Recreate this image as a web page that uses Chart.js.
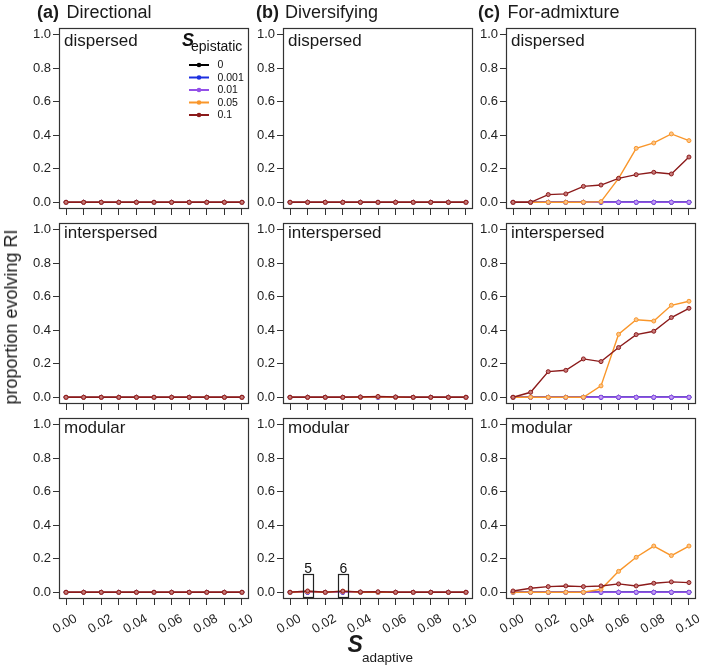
<!DOCTYPE html>
<html><head><meta charset="utf-8">
<script src="https://cdn.jsdelivr.net/npm/chart.js@4.4.1/dist/chart.umd.min.js"></script>
<style>
html,body{margin:0;padding:0;background:#fff;}
body{width:709px;height:672px;position:relative;overflow:hidden;font-family:'Liberation Sans',Arial,sans-serif;color:#1a1a1a;}
.t{position:absolute;white-space:nowrap;}
canvas{position:absolute;}
</style></head><body>
<script>
// ---------- data ----------
const sAdaptive = [0, 0.01, 0.02, 0.03, 0.04, 0.05, 0.06, 0.07, 0.08, 0.09, 0.10];
const xLabelValues = [0, 0.02, 0.04, 0.06, 0.08, 0.10];
const xLabelTexts = ['0.00', '0.02', '0.04', '0.06', '0.08', '0.10'];
const yTicks = [0, 0.2, 0.4, 0.6, 0.8, 1.0];
const seriesLabels = ['0', '0.001', '0.01', '0.05', '0.1'];
const seriesColors = ['#000000', '#1c2fe0', '#9350e8', '#f9962a', '#8b1a1a'];
const seriesFill = ['#606060', '#7f8af0', '#c3a0f3', '#fcc58a', '#c77a7a'];
const selectionTitles = ['Directional', 'Diversifying', 'For-admixture'];
const selectionLetters = ['(a)', '(b)', '(c)'];
const architectures = ['dispersed', 'interspersed', 'modular'];
const noteX = [0.01, 0.03];
const noteText = ['5', '6'];

// rows: sEpistatic 0, 0.001, 0.01, 0.05, 0.1
const dirDispersed = [
  [0,0,0,0,0,0,0,0,0,0,0],
  [0,0,0,0,0,0,0,0,0,0,0],
  [0,0,0,0,0,0,0,0,0,0,0],
  [0,0,0,0,0,0,0,0,0,0,0],
  [0,0,0,0,0,0,0,0,0,0,0]];
const dirInterspersed = [
  [0,0,0,0,0,0,0,0,0,0,0],
  [0,0,0,0,0,0,0,0,0,0,0],
  [0,0,0,0,0,0,0,0,0,0,0],
  [0,0,0,0,0,0,0,0,0,0,0],
  [0,0,0,0,0,0,0,0,0,0,0]];
const dirModular = [
  [0,0,0,0,0,0,0,0,0,0,0],
  [0,0,0,0,0,0,0,0,0,0,0],
  [0,0,0,0,0,0,0,0,0,0,0],
  [0,0,0,0,0,0,0,0,0,0,0],
  [0,0,0,0,0,0,0,0,0,0,0]];
const divDispersed = [
  [0,0,0,0,0,0,0,0,0,0,0],
  [0,0,0,0,0,0,0,0,0,0,0],
  [0,0,0,0,0,0,0,0,0,0,0],
  [0,0,0,0,0,0,0,0,0,0,0],
  [0,0,0,0,0,0,0,0,0,0,0]];
const divInterspersed = [
  [0,0,0,0,0,0,0,0,0,0,0],
  [0,0,0,0,0,0,0,0,0,0,0],
  [0,0,0,0,0,0,0,0,0,0,0],
  [0,0,0,0,0,0.003,0,0,0,0,0],
  [0,0,0,0,0.002,0.005,0.002,0,0,0,0]];
const divModular = [
  [0,0,0,0,0,0,0,0,0,0,0],
  [0,0,0,0,0,0,0,0,0,0,0],
  [0,0,0,0,0,0,0,0,0,0,0],
  [0,0.005,0,0.006,0,0,0,0,0,0,0],
  [0,0.008,0,0.007,0.002,0.003,0,0,0,0,0]];
const admDispersed = [
  [0,0,0,0,0,0,0,0,0,0,0],
  [0,0,0,0,0,0,0,0,0,0,0],
  [0,0,0,0,0,0,0,0,0,0,0],
  [0,0,0,0,0,0.004,0.143,0.322,0.354,0.408,0.368],
  [0,0,0.046,0.05,0.095,0.103,0.143,0.165,0.179,0.169,0.27]];
const admInterspersed = [
  [0,0,0,0,0,0,0,0,0,0,0],
  [0,0,0,0,0,0,0,0,0,0,0],
  [0,0,0,0,0,0,0,0,0,0,0],
  [0,0,0,0,0,0.068,0.376,0.463,0.455,0.549,0.573],
  [0,0.03,0.153,0.161,0.229,0.213,0.297,0.374,0.394,0.476,0.531]];
const admModular = [
  [0,0,0,0,0,0,0,0,0,0,0],
  [0,0,0,0,0,0,0,0,0,0,0],
  [0,0,0,0,0,0,0,0,0,0,0],
  [0,0,0,0,0,0.018,0.125,0.209,0.276,0.219,0.276],
  [0.008,0.024,0.034,0.038,0.034,0.038,0.05,0.038,0.054,0.062,0.058]];

const panelData = [
  [dirDispersed, dirInterspersed, dirModular],
  [divDispersed, divInterspersed, divModular],
  [admDispersed, admInterspersed, admModular]];

// ---------- layout ----------
const FONT = "'Liberation Sans', Arial, sans-serif";
const BOX_LEFT = [59, 283, 506];
const BOX_TOP = [28, 223, 418];
const BOX_W = 190, BOX_H = 181;
const PAD_L = 50, PAD_T = 12, PAD_R = 6, PAD_B = 40;

function text(str, left, baseline, size, weight, style) {
  const s = document.createElement('span');
  s.className = 't';
  s.textContent = str;
  s.style.fontSize = size + 'px';
  s.style.lineHeight = size + 'px';
  s.style.fontWeight = weight || 'normal';
  s.style.fontStyle = style || 'normal';
  s.style.left = left + 'px';
  s.style.top = (baseline - 0.8465 * size) + 'px';
  document.body.appendChild(s);
  return s;
}

const deco = {
  id: 'panelDeco',
  afterDraw(chart, args, opts) {
    const { ctx, chartArea: a } = chart;
    const xs = chart.scales.x, ys = chart.scales.y;
    ctx.save();
    // box
    ctx.strokeStyle = '#333';
    ctx.lineWidth = 1.2;
    ctx.strokeRect(Math.round(a.left) + 0.5, Math.round(a.top) + 0.5, Math.round(a.width) - 1, Math.round(a.height) - 1);
    // architecture label
    ctx.fillStyle = '#1a1a1a';
    ctx.font = '17px ' + FONT;
    ctx.textAlign = 'left';
    ctx.textBaseline = 'alphabetic';
    ctx.fillText(architectures[opts.row], a.left + 5, a.top + (opts.row === 0 ? 17.6 : 14.8));
    // x tick labels on bottom row
    if (opts.row === 2) {
      ctx.font = '13px ' + FONT;
      ctx.fillStyle = '#222';
      ctx.textAlign = 'center';
      ctx.textBaseline = 'middle';
      xLabelValues.forEach((v, i) => {
        const px = xs.getPixelForValue(v);
        ctx.save();
        ctx.translate(px - 1, a.bottom + 25);
        ctx.rotate(-30 * Math.PI / 180);
        ctx.fillText(xLabelTexts[i], 0, 0);
        ctx.restore();
      });
    }
    // legend
    if (opts.row === 0 && opts.col === 0) {
      ctx.fillStyle = '#111';
      ctx.textAlign = 'left';
      ctx.textBaseline = 'alphabetic';
      ctx.font = 'italic bold 18px ' + FONT;
      ctx.fillText('S', a.left + 123, a.top + 17.8);
      ctx.font = '14px ' + FONT;
      ctx.fillText('epistatic', a.left + 132, a.top + 22.6);
      seriesLabels.forEach((lab, i) => {
        const cy = a.top + 37 + i * 12.5;
        ctx.strokeStyle = seriesColors[i];
        ctx.lineWidth = 2;
        ctx.beginPath();
        ctx.moveTo(a.left + 130, cy);
        ctx.lineTo(a.left + 150, cy);
        ctx.stroke();
        ctx.fillStyle = seriesColors[i];
        ctx.beginPath();
        ctx.arc(a.left + 140, cy, 2.3, 0, Math.PI * 2);
        ctx.fill();
        ctx.fillStyle = '#111';
        ctx.font = '10.5px ' + FONT;
        ctx.textBaseline = 'middle';
        ctx.fillText(lab, a.left + 158.5, cy + 0.5);
        ctx.textBaseline = 'alphabetic';
      });
    }
    // count annotations
    if (opts.row === 2 && opts.col === 1) {
      const y0 = ys.getPixelForValue(0);
      ctx.strokeStyle = '#222';
      ctx.lineWidth = 1.2;
      ctx.fillStyle = '#111';
      ctx.font = '14px ' + FONT;
      ctx.textAlign = 'center';
      ctx.textBaseline = 'alphabetic';
      noteX.forEach((v, i) => {
        const px = xs.getPixelForValue(v);
        ctx.strokeRect(Math.round(px - 5) + 0.5, Math.round(y0 - 18) + 0.5, 10, 23);
        ctx.fillText(noteText[i], px + 0.5, y0 - 19.5);
      });
    }
    ctx.restore();
  }
};

function makePanel(col, row) {
  const series = panelData[col][row];
  const W = PAD_L + BOX_W + PAD_R, H = PAD_T + BOX_H + PAD_B;
  const cv = document.createElement('canvas');
  cv.width = W; cv.height = H;
  cv.style.left = (BOX_LEFT[col] - PAD_L) + 'px';
  cv.style.top = (BOX_TOP[row] - PAD_T) + 'px';
  cv.style.width = W + 'px'; cv.style.height = H + 'px';
  document.body.appendChild(cv);
  const datasets = series.map((vals, i) => ({
    label: seriesLabels[i],
    data: sAdaptive.map((x, j) => ({ x: x, y: vals[j] })),
    borderColor: seriesColors[i],
    backgroundColor: seriesFill[i],
    pointBackgroundColor: seriesFill[i],
    pointBorderColor: seriesColors[i],
    borderWidth: 1.4,
    pointRadius: 2,
    pointBorderWidth: 1,
    pointHoverRadius: 2,
    tension: 0,
    fill: false,
    order: series.length - i
  }));
  const gridOpts = { display: true, drawOnChartArea: false, drawTicks: true, tickLength: 6, color: '#333', lineWidth: 1 };
  new Chart(cv, {
    type: 'line',
    data: { datasets },
    options: {
      responsive: false,
      animation: false,
      events: [],
      layout: { padding: { left: 0, top: PAD_T, right: PAD_R, bottom: 0 } },
      plugins: { legend: { display: false }, tooltip: { enabled: false }, panelDeco: { col, row } },
      scales: {
        x: {
          type: 'linear', min: -0.004, max: 0.104, position: 'bottom',
          afterBuildTicks: s => { s.ticks = sAdaptive.map(v => ({ value: v })); },
          afterFit: s => { s.height = PAD_B; },
          ticks: { display: false },
          grid: gridOpts,
          border: { display: false }
        },
        y: {
          type: 'linear', min: -0.04, max: 1.04, position: 'left',
          afterBuildTicks: s => { s.ticks = yTicks.map(v => ({ value: v })); },
          afterFit: s => { s.width = PAD_L; },
          ticks: { display: true, font: { family: FONT, size: 13 }, color: '#222', padding: 2, callback: v => Number(v).toFixed(1) },
          grid: gridOpts,
          border: { display: false }
        }
      }
    },
    plugins: [deco]
  });
}

for (let c = 0; c < 3; c++) for (let r = 0; r < 3; r++) makePanel(c, r);

// panel titles
const letterLeft = [37, 256, 478];
const titleLeft = [66.5, 285, 507.5];
for (let c = 0; c < 3; c++) {
  text(selectionLetters[c], letterLeft[c], 18, 18, 'bold');
  text(selectionTitles[c], titleLeft[c], 18, 18);
}

// y axis title
const yt = document.createElement('span');
yt.className = 't';
yt.textContent = 'proportion evolving RI';
yt.style.fontSize = '18px';
yt.style.lineHeight = '18px';
yt.style.left = '10.5px';
yt.style.top = '316.5px';
yt.style.transform = 'translate(-50%,-50%) rotate(-90deg)';
document.body.appendChild(yt);

// x axis title
text('S', 347.5, 652, 23, 'bold', 'italic');
text('adaptive', 362, 662, 13.5);
</script>
</body></html>
